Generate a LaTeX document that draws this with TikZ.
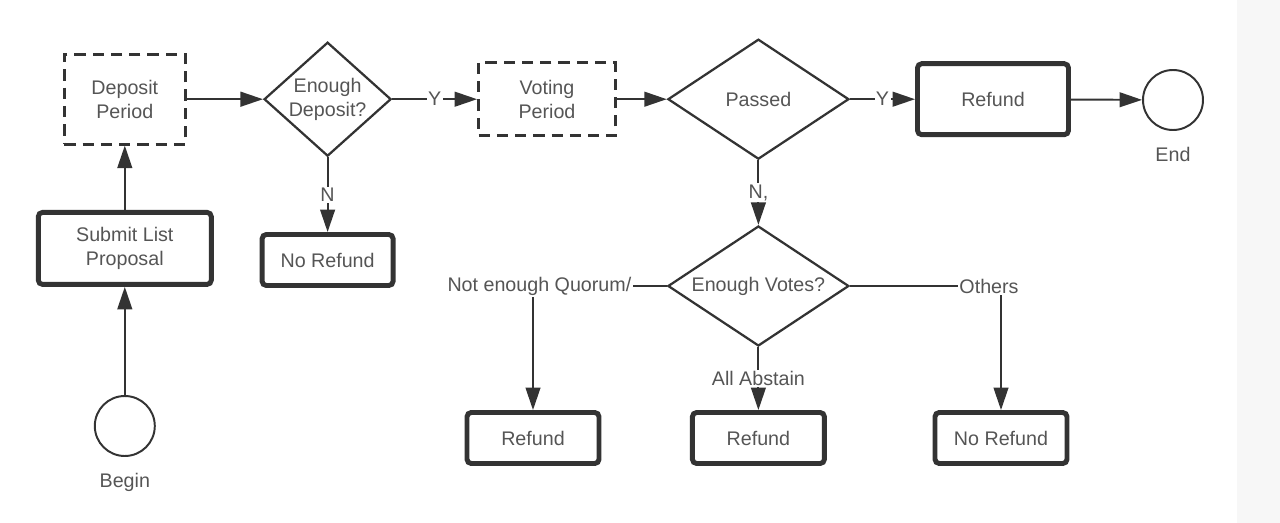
\documentclass[tikz,border=0pt]{standalone}
\usepackage{fontspec}
\setmainfont{Liberation Sans}
\usetikzlibrary{shapes.geometric,arrows.meta}
\definecolor{linegray}{HTML}{333333}
\definecolor{textgray}{HTML}{555555}

\begin{document}
\begin{tikzpicture}[
            every node/.style={font=\fontsize{14}{17}\selectfont, text=textgray},
            task/.style={draw=linegray, line width=3.5pt, rounded corners=3pt,
                    align=center, inner sep=0pt},
            period/.style={draw=linegray, line width=2pt, dash pattern=on 8pt off 5pt,
                    align=center, inner sep=0pt},
            decision/.style={draw=linegray, line width=1.6pt, diamond, align=center,
                    inner sep=0pt},
            event/.style={draw=linegray, line width=1.4pt, circle, minimum size=1.5cm},
            caption/.style={yshift=-8pt},
            tag/.style={fill=white, inner sep=1pt},
            arrow/.style={draw=linegray, line width=1.4pt,
                    -{Triangle[length=16pt, width=10.5pt]}}
        ]
        \useasboundingbox (0,0) rectangle (32,-13.075);
        \fill[gray!6] (30.925,0) rectangle (32,-13.075);

        \node[period, minimum width=3.025cm, minimum height=2.25cm] (deposit) at (3.12,-2.48) {Deposit\\Period};
        \node[decision, aspect=1.1, minimum width=3.175cm, minimum height=2.85cm] (enoughdep) at (8.19,-2.48) {Enough\\Deposit?};
        \node[period, minimum width=3.425cm, minimum height=1.825cm] (voting) at (13.675,-2.48) {Voting\\Period};
        \node[decision, aspect=1.5, minimum width=4.525cm, minimum height=3cm] (passed) at (18.96,-2.48) {Passed};
        \node[task, minimum width=3.775cm, minimum height=1.775cm] (refund) at (24.825,-2.48) {Refund};
        \node[event, label={[caption]below:End}] (endc) at (29.325,-2.5) {};
        \node[task, minimum width=4.325cm, minimum height=1.8cm] (submit) at (3.12,-6.21) {Submit List\\Proposal};
        \node[task, minimum width=3.275cm, minimum height=1.275cm] (norefund) at (8.19,-6.5) {No Refund};
        \node[event, label={[caption]below:Begin}] (begin) at (3.12,-10.65) {};
        \node[decision, aspect=1.5, minimum width=4.525cm, minimum height=3cm] (votes) at (18.96,-7.15) {Enough Votes?};
        \node[task, minimum width=3.3cm, minimum height=1.275cm] (refundq) at (13.325,-10.95) {Refund};
        \node[task, minimum width=3.3cm, minimum height=1.275cm] (refunda) at (18.96,-10.95) {Refund};
        \node[task, minimum width=3.3cm, minimum height=1.275cm] (norefundo) at (25.025,-10.95) {No Refund};

        \draw[arrow] (begin) -- (submit);
        \draw[arrow] (submit) -- (deposit);
        \draw[arrow] (deposit) -- (enoughdep);
        \draw[arrow] (enoughdep) -- node[tag] {Y} (voting);
        \draw[arrow] (enoughdep) -- node[tag] {N} (norefund);
        \draw[arrow] (voting) -- (passed);
        \draw[arrow] (passed) -- node[tag] {Y} (refund);
        \draw[arrow] (refund) -- (endc);
        \draw[arrow] (passed) -- node[tag] {N,} (votes);
        \draw[arrow] (votes) -| node[tag, pos=0.5, xshift=0.16cm] {Not enough Quorum/} (refundq);
        \draw[arrow] (votes) -- node[tag] {All Abstain} (refunda);
        \draw[arrow] (votes) -| node[tag, pos=0.5, xshift=-0.3cm] {Others} (norefundo);
    \end{tikzpicture}
\end{document}
